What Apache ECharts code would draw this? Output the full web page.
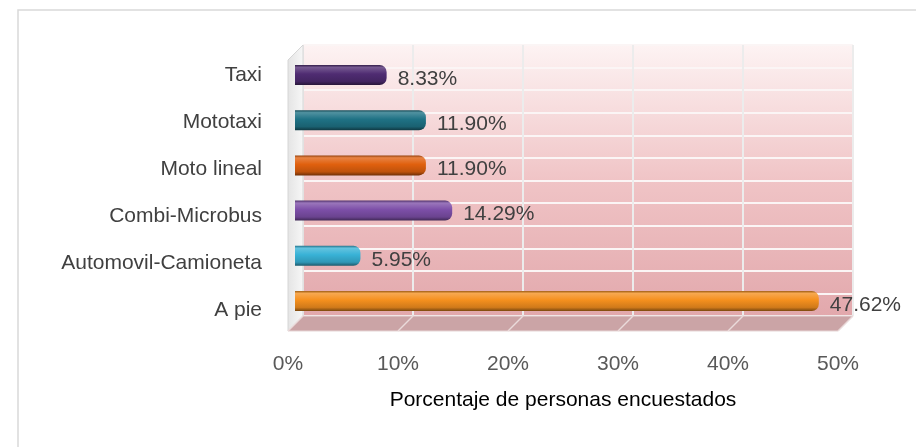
<!DOCTYPE html>
<html>
<head>
<meta charset="utf-8">
<script src="https://cdn.jsdelivr.net/npm/echarts@6/dist/echarts.min.js"></script>
<style>
  html, body { margin: 0; padding: 0; background: #fff; }
  #chart { width: 916px; height: 447px; }
</style>
</head>
<body>
<div id="chart"></div>
<script>
  // datos (de abajo hacia arriba)
  const categorias = ['A pie', 'Automovil-Camioneta', 'Combi-Microbus', 'Moto lineal', 'Mototaxi', 'Taxi'];
  const porcentajes = [47.62, 5.95, 14.29, 11.90, 11.90, 8.33];
  const ejeMin = 0;
  const ejeMax = 50;
  const ejePaso = 10;

  // un color por barra
  const colores = ['#f5901e', '#38b2d6', '#7d4fa8', '#e0600e', '#1f7285', '#4f2c72'];

  const fuente = 'Liberation Sans';
  const tam = 21;

  // aclarar (f>0) u oscurecer (f<0) un color hex
  function shade(hex, f) {
    let c = hex.replace('#', '');
    let r = parseInt(c.substr(0, 2), 16);
    let g = parseInt(c.substr(2, 2), 16);
    let b = parseInt(c.substr(4, 2), 16);
    const t = f < 0 ? 0 : 255;
    const p = Math.abs(f);
    r = Math.round((t - r) * p + r);
    g = Math.round((t - g) * p + g);
    b = Math.round((t - b) * p + b);
    return 'rgb(' + r + ',' + g + ',' + b + ')';
  }

  // degradado tipo cilindro
  function colorBarra(base) {
    return new echarts.graphic.LinearGradient(0, 0, 0, 1, [
      { offset: 0, color: shade(base, -0.35) },
      { offset: 0.12, color: shade(base, 0.22) },
      { offset: 0.45, color: base },
      { offset: 0.82, color: shade(base, -0.15) },
      { offset: 1, color: shade(base, -0.5) }
    ]);
  }

  // lineas diagonales del piso (decoracion 3D)
  let lineasPiso = [];
  for (let k = 0; k <= 5; k++) {
    lineasPiso.push({
      type: 'line', z: 1,
      shape: { x1: 303 + 110 * k, y1: 316, x2: 288 + 110 * k, y2: 331 },
      style: { stroke: '#eadada', lineWidth: 1.5 }
    });
  }

  let myChart = echarts.init(document.getElementById('chart'));

  myChart.setOption({
    animation: false,
    textStyle: { fontFamily: fuente },
    graphic: [
      // marco exterior
      {
        type: 'rect', z: 0,
        shape: { x: 18, y: 10, width: 920, height: 460 },
        style: { fill: 'none', stroke: '#d9d9d9', lineWidth: 1.5 }
      },
      // pared izquierda
      {
        type: 'polygon', z: 1,
        shape: { points: [[288, 60], [303, 45], [303, 316], [288, 331]] },
        style: {
          fill: new echarts.graphic.LinearGradient(0, 0, 1, 0, [
            { offset: 0, color: '#e4e4e4' },
            { offset: 1, color: '#f7f7f7' }
          ]),
          stroke: '#d6d6d6', lineWidth: 1
        }
      },
      // piso
      {
        type: 'polygon', z: 1,
        shape: { points: [[288, 331], [303, 316], [853, 316], [838, 331]] },
        style: { fill: '#cba4a6', stroke: '#e6d6d6', lineWidth: 1 }
      }
    ].concat(lineasPiso),
    grid: [
      {
        left: 303, top: 45, width: 550, height: 271,
        show: true, borderWidth: 0,
        backgroundColor: new echarts.graphic.LinearGradient(0, 0, 0, 1, [
          { offset: 0, color: '#fdf3f3' },
          { offset: 0.5, color: '#f0c4c6' },
          { offset: 1, color: '#e2a8ac' }
        ])
      },
      { left: 295, top: 52.4, width: 550, height: 271.2 },
      { left: 288, top: 51.5, width: 550, height: 282 }
    ],
    xAxis: [
      {
        gridIndex: 0, type: 'value', min: ejeMin, max: ejeMax, interval: ejePaso,
        axisLabel: { show: false }, axisLine: { show: false }, axisTick: { show: false },
        splitLine: { lineStyle: { color: '#ececec', width: 2 } }
      },
      {
        gridIndex: 1, type: 'value', min: ejeMin, max: ejeMax, show: false
      },
      {
        gridIndex: 2, type: 'value', min: ejeMin, max: ejeMax, interval: ejePaso,
        axisLine: { show: false }, axisTick: { show: false }, splitLine: { show: false },
        axisLabel: { formatter: '{value}%', margin: 20, color: '#595959', fontSize: tam },
        name: 'Porcentaje de personas encuestados',
        nameLocation: 'middle', nameGap: 56,
        nameTextStyle: { color: '#000', fontSize: tam }
      }
    ],
    yAxis: [
      {
        gridIndex: 0, type: 'value', min: 0, max: 12, interval: 1,
        axisLabel: { show: false }, axisLine: { show: false }, axisTick: { show: false },
        splitLine: { lineStyle: { color: '#fbf5f5', width: 2 } }
      },
      {
        gridIndex: 1, type: 'category', data: categorias, show: false
      },
      {
        gridIndex: 2, type: 'category', data: categorias,
        axisLine: { show: false }, axisTick: { show: false },
        axisLabel: { margin: 26, color: '#404040', fontSize: tam }
      }
    ],
    series: [
      {
        name: 'Porcentaje',
        type: 'bar',
        xAxisIndex: 1,
        yAxisIndex: 1,
        barWidth: 20,
        z: 3,
        data: porcentajes.map((v, i) => ({
          value: v,
          itemStyle: { color: colorBarra(colores[i]), borderRadius: [0, 7, 7, 0] }
        })),
        label: {
          show: true,
          position: 'right',
          distance: 11,
          offset: [0, 4],
          color: '#404040',
          fontSize: tam,
          formatter: p => p.value.toFixed(2) + '%'
        }
      }
    ]
  });
</script>
</body>
</html>
